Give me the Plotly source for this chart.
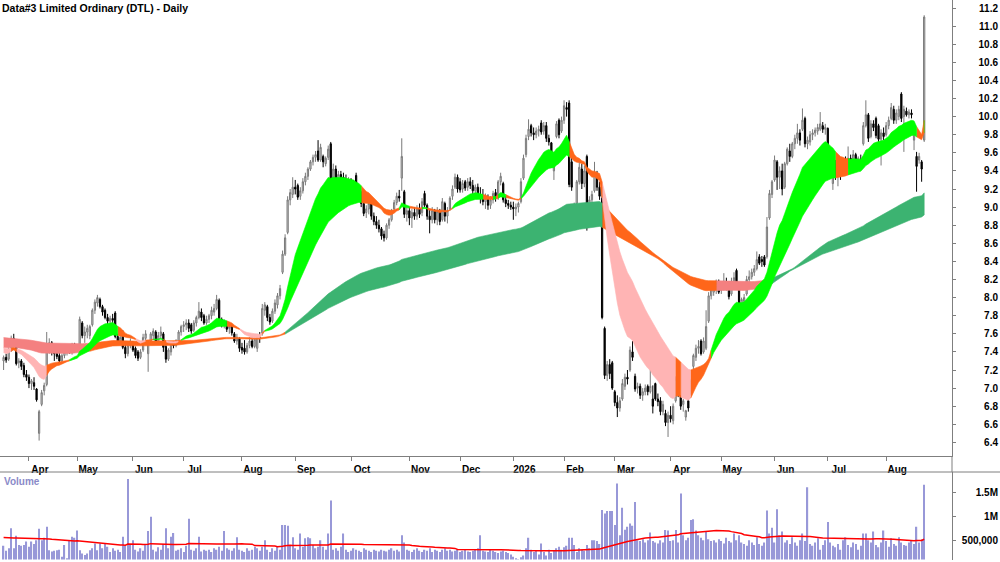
import numpy as np
import pandas as pd
import plotly.graph_objects as go

# ---------------- data ----------------
start_date = "2025-03-18"
end_date = "2026-08-24"
holidays = ["2025-04-18", "2025-04-21", "2025-04-25", "2025-06-09", "2025-12-25",
            "2025-12-26", "2026-01-01", "2026-01-26", "2026-04-03", "2026-04-06",
            "2026-06-08"]

opens = [
    # Mar 2025
    7.30, 7.34, 7.32, 7.43, 7.55, 7.51, 7.28, 7.30, 7.25, 7.15,
    # Apr 2025
    7.12, 7.05, 7.06, 6.99, 6.50, 6.82, 6.97, 7.04, 7.45, 7.50, 7.40, 7.38, 7.36, 7.30, 7.36, 7.40, 7.42, 7.40, 7.46,
    # May 2025
    7.44, 7.43, 7.72, 7.58, 7.62, 7.58, 7.70, 7.86, 7.94, 7.98, 7.90, 7.86, 7.78, 7.74, 7.77, 7.83, 7.57, 7.52, 7.62, 7.45, 7.38, 7.47,
    # Jun 2025
    7.50, 7.44, 7.40, 7.34, 7.42, 7.55, 7.38, 7.52, 7.58, 7.62, 7.52, 7.58, 7.60, 7.46, 7.32, 7.40, 7.48, 7.47, 7.52, 7.62,
    # Jul 2025
    7.68, 7.70, 7.72, 7.70, 7.64, 7.72, 7.78, 7.84, 7.80, 7.72, 7.76, 7.80, 7.84, 7.88, 7.97, 7.76, 7.70, 7.72, 7.66, 7.68, 7.60, 7.52, 7.55,
    # Aug 2025
    7.45, 7.44, 7.40, 7.47, 7.52, 7.46, 7.44, 7.56, 7.60, 7.86, 7.90, 7.78, 7.74, 7.85, 7.92, 8.02, 8.28, 8.48, 8.72, 9.08, 9.14,
    # Sep 2025
    9.22, 9.24, 9.12, 9.18, 9.28, 9.34, 9.42, 9.50, 9.55, 9.62, 9.52, 9.56, 9.48, 9.55, 9.70, 9.30, 9.42, 9.30, 9.36, 9.33, 9.30, 9.26,
    # Oct 2025
    9.30, 9.22, 9.35, 9.14, 9.16, 9.04, 8.94, 8.98, 9.04, 8.90, 8.84, 8.80, 8.76, 8.70, 8.66, 8.80, 8.86, 8.98, 9.05, 9.12, 9.32, 9.17, 8.92,
    # Nov 2025
    8.96, 8.88, 8.94, 8.90, 8.98, 8.94, 9.15, 9.02, 8.90, 8.86, 8.96, 8.86, 8.95, 8.86, 9.04, 8.90, 8.98, 9.12, 9.22, 9.33,
    # Dec 2025
    9.28, 9.20, 9.28, 9.22, 9.28, 9.24, 9.18, 9.22, 9.14, 9.12, 9.06, 9.10, 9.02, 9.08, 9.16, 9.10, 9.28, 9.26, 9.08, 9.04, 9.02,
    # Jan 2026
    9.00, 8.98, 9.00, 9.06, 9.32, 9.58, 9.78, 9.90, 9.82, 9.80, 9.84, 9.93, 9.84, 9.90, 9.76, 9.71, 9.40, 9.78, 9.96, 9.84,
    # Feb 2026
    9.96, 10.10, 10.15, 9.50, 8.85, 9.04, 9.28, 9.42, 9.26, 9.56, 8.82, 9.08, 9.18, 9.35, 9.22, 9.10, 7.66, 7.14, 7.26, 7.28,
    # Mar 2026
    6.96, 6.84, 6.78, 6.88, 7.02, 7.12, 7.20, 7.40, 7.13, 7.00, 7.02, 6.92, 6.96, 7.02, 6.96, 6.88, 7.05, 6.88, 6.86, 6.74, 6.72, 6.62,
    # Apr 2026
    6.70, 6.64, 6.86, 7.08, 6.90, 6.82, 6.68, 6.86, 6.94, 7.24, 7.34, 7.44, 7.52, 7.40, 7.44, 7.74, 8.02, 8.06, 8.12, 8.18,
    # May 2026
    8.08, 8.12, 8.18, 8.14, 8.04, 8.18, 8.30, 8.10, 7.86, 7.96, 8.04, 8.20, 8.23, 8.28, 8.32, 8.45, 8.42, 8.45, 8.45, 8.88, 9.14,
    # Jun 2026
    9.30, 9.50, 9.33, 9.40, 9.22, 9.48, 9.62, 9.56, 9.70, 9.76, 9.82, 9.86, 9.98, 9.70, 9.72, 9.80, 9.82, 9.84, 9.86, 9.90, 9.86,
    # Jul 2026
    9.87, 9.59, 9.26, 9.48, 9.34, 9.42, 9.38, 9.48, 9.44, 9.54, 9.46, 9.58, 9.50, 9.52, 9.70, 9.90, 10.02, 9.78, 9.92, 9.98, 9.90, 9.75, 9.82,
    # Aug 2026
    9.80, 9.90, 9.98, 10.08, 9.96, 10.00, 10.25, 10.00, 10.06, 10.02, 10.04, 9.74, 9.56, 9.52, 9.50, 9.74,
]
highs = [
    7.36, 7.38, 7.45, 7.58, 7.60, 7.53, 7.33, 7.32, 7.28, 7.20,
    7.15, 7.10, 7.12, 7.00, 6.76, 6.98, 7.06, 7.62, 7.55, 7.52, 7.45, 7.44, 7.40, 7.38, 7.42, 7.46, 7.48, 7.50, 7.50,
    7.48, 7.79, 7.74, 7.68, 7.70, 7.70, 7.88, 7.98, 8.03, 8.00, 7.92, 7.88, 7.82, 7.80, 7.82, 7.85, 7.60, 7.58, 7.64, 7.48, 7.50, 7.55,
    7.52, 7.46, 7.42, 7.43, 7.60, 7.64, 7.53, 7.62, 7.66, 7.64, 7.62, 7.68, 7.62, 7.48, 7.44, 7.50, 7.52, 7.54, 7.64, 7.70,
    7.74, 7.76, 7.76, 7.72, 7.75, 7.80, 7.95, 7.88, 7.82, 7.80, 7.82, 7.90, 7.93, 8.03, 7.99, 7.78, 7.76, 7.74, 7.70, 7.70, 7.62, 7.60, 7.56,
    7.50, 7.53, 7.50, 7.56, 7.57, 7.56, 7.60, 7.62, 7.93, 7.95, 7.92, 7.82, 7.88, 7.98, 8.05, 8.14, 8.52, 8.70, 9.12, 9.20, 9.33,
    9.30, 9.26, 9.22, 9.32, 9.38, 9.44, 9.52, 9.58, 9.62, 9.74, 9.70, 9.58, 9.56, 9.68, 9.72, 9.48, 9.46, 9.40, 9.40, 9.38, 9.36, 9.33,
    9.32, 9.30, 9.38, 9.22, 9.18, 9.08, 9.02, 9.08, 9.08, 8.94, 8.90, 8.86, 8.78, 8.74, 8.82, 8.88, 8.98, 9.08, 9.16, 9.19, 9.76, 9.19, 9.00,
    9.00, 8.98, 9.00, 9.02, 9.04, 9.10, 9.18, 9.04, 8.98, 9.00, 8.98, 9.00, 8.98, 9.10, 9.06, 9.00, 9.12, 9.24, 9.37, 9.36,
    9.32, 9.30, 9.30, 9.32, 9.33, 9.30, 9.25, 9.26, 9.22, 9.20, 9.15, 9.14, 9.12, 9.18, 9.20, 9.30, 9.38, 9.28, 9.12, 9.08, 9.06,
    9.06, 9.04, 9.06, 9.32, 9.58, 9.80, 9.97, 9.92, 9.88, 9.88, 9.90, 9.96, 9.94, 9.94, 9.80, 9.72, 9.52, 9.95, 9.98, 10.00,
    10.18, 10.16, 10.18, 9.56, 9.05, 9.30, 9.52, 9.48, 9.46, 9.58, 9.12, 9.18, 9.50, 9.40, 9.28, 9.22, 7.68, 7.30, 7.32, 7.30,
    6.98, 6.92, 6.90, 7.10, 7.16, 7.20, 7.46, 7.52, 7.16, 7.06, 7.05, 7.00, 7.04, 7.04, 7.31, 7.03, 7.06, 6.94, 6.90, 6.86, 6.76, 6.74,
    6.80, 6.83, 7.13, 7.10, 6.92, 6.88, 6.76, 6.88, 7.10, 7.38, 7.48, 7.53, 7.54, 7.56, 7.86, 8.06, 8.17, 8.18, 8.20, 8.20,
    8.18, 8.27, 8.22, 8.16, 8.22, 8.28, 8.32, 8.12, 8.00, 8.04, 8.24, 8.30, 8.32, 8.36, 8.51, 8.48, 8.46, 8.47, 8.89, 9.19, 9.30,
    9.57, 9.52, 9.45, 9.48, 9.50, 9.66, 9.70, 9.72, 9.80, 9.92, 9.86, 10.09, 10.00, 9.78, 9.84, 9.86, 9.88, 9.92, 10.05, 9.94, 9.92,
    9.88, 9.62, 9.52, 9.52, 9.45, 9.46, 9.52, 9.56, 9.67, 9.58, 9.63, 9.60, 9.56, 9.58, 9.94, 10.18, 10.04, 9.96, 9.96, 10.00, 9.92, 9.86, 9.88,
    9.94, 10.00, 10.15, 10.12, 10.08, 10.12, 10.27, 10.12, 10.10, 10.08, 10.08, 9.94, 9.61, 9.60, 9.52, 11.12,
]
lows = [
    7.20, 7.28, 7.30, 7.40, 7.48, 7.25, 7.22, 7.20, 7.12, 7.08,
    7.00, 6.98, 6.98, 6.85, 6.42, 6.80, 6.92, 7.02, 7.38, 7.36, 7.30, 7.32, 7.28, 7.27, 7.33, 7.36, 7.38, 7.37, 7.40,
    7.40, 7.42, 7.55, 7.50, 7.55, 7.54, 7.68, 7.82, 7.90, 7.88, 7.80, 7.76, 7.70, 7.70, 7.72, 7.55, 7.48, 7.48, 7.43, 7.33, 7.35, 7.44,
    7.40, 7.33, 7.30, 7.32, 7.40, 7.50, 7.18, 7.50, 7.54, 7.48, 7.48, 7.55, 7.40, 7.28, 7.30, 7.36, 7.44, 7.45, 7.50, 7.58,
    7.62, 7.64, 7.62, 7.60, 7.62, 7.68, 7.76, 7.74, 7.70, 7.70, 7.72, 7.76, 7.80, 7.86, 7.74, 7.67, 7.66, 7.62, 7.60, 7.58, 7.50, 7.48, 7.40,
    7.38, 7.37, 7.38, 7.44, 7.44, 7.44, 7.40, 7.50, 7.58, 7.80, 7.74, 7.70, 7.72, 7.82, 7.88, 7.98, 8.26, 8.46, 8.70, 9.02, 9.10,
    9.14, 9.08, 9.08, 9.15, 9.24, 9.30, 9.40, 9.46, 9.50, 9.50, 9.50, 9.44, 9.45, 9.52, 9.22, 9.22, 9.26, 9.28, 9.30, 9.24, 9.22, 9.20,
    9.18, 9.16, 9.10, 9.08, 9.00, 8.90, 8.88, 8.92, 8.86, 8.80, 8.76, 8.72, 8.64, 8.62, 8.64, 8.76, 8.84, 8.94, 9.02, 9.06, 9.18, 8.88, 8.84,
    8.80, 8.77, 8.86, 8.86, 8.88, 8.90, 9.00, 8.86, 8.71, 8.82, 8.82, 8.80, 8.80, 8.84, 8.84, 8.82, 8.96, 9.08, 9.20, 9.16,
    9.16, 9.16, 9.18, 9.18, 9.20, 9.14, 9.10, 9.10, 9.04, 9.02, 8.98, 8.97, 8.98, 9.04, 9.06, 9.08, 9.24, 9.05, 9.00, 8.98, 8.97,
    8.86, 8.90, 8.94, 9.04, 9.30, 9.55, 9.74, 9.78, 9.74, 9.76, 9.78, 9.80, 9.80, 9.72, 9.68, 9.50, 9.30, 9.76, 9.76, 9.82,
    9.92, 10.00, 9.22, 9.18, 8.78, 9.00, 9.25, 9.20, 9.22, 8.74, 8.80, 8.96, 9.16, 9.18, 9.08, 7.76, 7.10, 7.08, 7.10, 6.98,
    6.80, 6.68, 6.74, 6.86, 6.98, 7.04, 7.18, 7.30, 6.96, 6.94, 6.88, 6.86, 6.92, 6.92, 6.94, 6.72, 6.86, 6.80, 6.70, 6.70, 6.58, 6.46,
    6.62, 6.60, 6.84, 6.90, 6.76, 6.74, 6.64, 6.74, 6.92, 7.20, 7.30, 7.38, 7.36, 7.38, 7.42, 7.72, 7.98, 8.02, 8.04, 8.04,
    8.04, 8.08, 8.08, 7.98, 8.02, 8.12, 8.10, 7.88, 7.82, 7.90, 8.02, 8.14, 8.20, 8.24, 8.30, 8.36, 8.34, 8.34, 8.43, 8.86, 9.10,
    9.28, 9.19, 9.20, 9.13, 9.20, 9.46, 9.50, 9.54, 9.64, 9.70, 9.68, 9.84, 9.66, 9.64, 9.68, 9.74, 9.78, 9.80, 9.84, 9.82, 9.80,
    9.56, 9.44, 9.19, 9.30, 9.23, 9.30, 9.36, 9.40, 9.42, 9.42, 9.44, 9.46, 9.46, 9.48, 9.68, 9.88, 9.72, 9.76, 9.84, 9.76, 9.72, 9.46, 9.74,
    9.78, 9.86, 9.96, 9.92, 9.92, 9.96, 9.94, 9.61, 10.00, 9.98, 9.98, 9.63, 9.17, 9.48, 9.28, 9.72,
]
closes = [
    7.34, 7.31, 7.43, 7.55, 7.52, 7.27, 7.30, 7.24, 7.15, 7.12,
    7.05, 7.08, 7.02, 6.87, 6.74, 6.95, 7.03, 7.45, 7.50, 7.40, 7.38, 7.35, 7.30, 7.36, 7.40, 7.43, 7.40, 7.47, 7.44,
    7.43, 7.76, 7.58, 7.62, 7.66, 7.68, 7.86, 7.95, 8.00, 7.90, 7.84, 7.78, 7.74, 7.77, 7.75, 7.57, 7.52, 7.56, 7.45, 7.38, 7.47, 7.52,
    7.42, 7.36, 7.33, 7.40, 7.56, 7.60, 7.50, 7.60, 7.63, 7.52, 7.58, 7.62, 7.45, 7.32, 7.42, 7.48, 7.47, 7.52, 7.62, 7.68,
    7.70, 7.72, 7.66, 7.63, 7.72, 7.78, 7.85, 7.78, 7.72, 7.76, 7.80, 7.86, 7.88, 7.98, 7.76, 7.70, 7.73, 7.65, 7.68, 7.61, 7.52, 7.56, 7.44,
    7.42, 7.40, 7.47, 7.52, 7.46, 7.54, 7.58, 7.55, 7.88, 7.92, 7.78, 7.73, 7.85, 7.94, 8.02, 8.10, 8.48, 8.66, 9.08, 9.16, 9.22,
    9.20, 9.11, 9.18, 9.28, 9.34, 9.42, 9.50, 9.55, 9.58, 9.52, 9.66, 9.50, 9.54, 9.64, 9.25, 9.42, 9.30, 9.36, 9.33, 9.30, 9.26, 9.30,
    9.22, 9.26, 9.12, 9.18, 9.04, 8.93, 8.98, 9.04, 8.90, 8.84, 8.80, 8.76, 8.68, 8.66, 8.80, 8.86, 8.96, 9.05, 9.12, 9.10, 9.56, 8.92, 8.96,
    8.88, 8.94, 8.90, 8.98, 8.92, 9.06, 9.02, 8.90, 8.86, 8.96, 8.86, 8.95, 8.84, 9.06, 8.90, 8.96, 9.10, 9.20, 9.33, 9.20,
    9.19, 9.26, 9.21, 9.28, 9.24, 9.18, 9.22, 9.14, 9.10, 9.06, 9.10, 9.02, 9.08, 9.15, 9.10, 9.28, 9.34, 9.08, 9.04, 9.02, 9.00,
    8.98, 9.00, 9.04, 9.28, 9.54, 9.76, 9.86, 9.82, 9.80, 9.84, 9.86, 9.83, 9.90, 9.76, 9.72, 9.53, 9.48, 9.92, 9.80, 9.96,
    10.12, 10.08, 9.25, 9.22, 9.02, 9.28, 9.44, 9.26, 9.40, 8.78, 9.08, 9.14, 9.35, 9.22, 9.12, 7.78, 7.14, 7.26, 7.16, 7.00,
    6.84, 6.78, 6.86, 7.05, 7.12, 7.10, 7.42, 7.34, 6.99, 7.02, 6.92, 6.96, 7.00, 6.96, 7.02, 6.80, 6.88, 6.85, 6.74, 6.82, 6.62, 6.70,
    6.66, 6.80, 7.10, 6.94, 6.80, 6.86, 6.75, 6.78, 7.08, 7.36, 7.44, 7.46, 7.38, 7.52, 7.68, 8.02, 8.10, 8.14, 8.16, 8.06,
    8.15, 8.18, 8.12, 8.01, 8.18, 8.22, 8.12, 7.90, 7.98, 8.00, 8.20, 8.23, 8.28, 8.32, 8.42, 8.38, 8.40, 8.36, 8.78, 9.15, 9.28,
    9.52, 9.33, 9.40, 9.20, 9.48, 9.64, 9.56, 9.70, 9.76, 9.82, 9.74, 9.96, 9.70, 9.74, 9.80, 9.82, 9.85, 9.88, 9.92, 9.86, 9.88,
    9.58, 9.46, 9.50, 9.34, 9.40, 9.36, 9.50, 9.44, 9.54, 9.46, 9.58, 9.50, 9.54, 9.50, 9.90, 10.02, 9.76, 9.92, 9.88, 9.79, 9.75, 9.82, 9.78,
    9.90, 9.96, 10.10, 9.96, 10.04, 10.08, 9.98, 10.08, 10.02, 10.05, 10.02, 9.90, 9.45, 9.56, 9.42, 11.10,
]
volumes_k = [
    380, 280, 330, 750, 330, 590, 400, 380, 400, 470,
    360, 470, 420, 500, 740, 500, 550, 780, 290, 260,
    280, 290, 300, 150, 400, 120, 500, 570, 550, 700,
    290, 220, 190, 220, 290, 330, 430, 290, 430, 330,
    430, 360, 250, 330, 280, 300, 250, 570, 380, 1780,
    420, 500, 300, 260, 330, 280, 420, 690, 990, 300,
    260, 350, 300, 420, 750, 330, 570, 650, 280, 300,
    330, 250, 380, 950, 300, 280, 330, 570, 260, 300,
    280, 300, 250, 330, 300, 360, 280, 690, 330, 300,
    280, 330, 560, 300, 280, 250, 330, 280, 300, 360,
    330, 280, 360, 500, 300, 250, 330, 280, 360, 300,
    820, 820, 800, 400, 560, 330, 300, 640, 360, 540,
    560, 540, 400, 330, 360, 500, 360, 300, 640, 1330,
    300, 330, 280, 360, 640, 300, 250, 280, 330, 300,
    280, 250, 330, 300, 280, 250, 300, 280, 260, 300,
    280, 260, 300, 330, 280, 300, 260, 600, 450, 300,
    280, 250, 300, 330, 280, 250, 300, 280, 330, 250,
    300, 280, 250, 300, 330, 280, 300, 260, 280, 300,
    250, 280, 300, 260, 250, 280, 300, 330, 600, 280,
    260, 250, 300, 280, 250, 230, 260, 280, 250, 230,
    200, 150, 120, 100, 140, 180, 330, 550, 300, 250,
    280, 200, 430, 250, 180, 300, 230, 280, 330, 360,
    300, 350, 380, 550, 550, 400, 250, 330, 300, 280,
    400, 330, 500, 500, 480, 420, 1130, 1060, 1110, 1110,
    1110, 820, 1690, 600, 1180, 720, 780, 850, 800, 1300,
    500, 480, 520, 450, 500, 660, 480, 450, 430, 500,
    450, 710, 700, 480, 500, 710, 450, 1480, 600, 500,
    550, 920, 940, 700, 600, 550, 500, 670, 520, 480,
    500, 450, 520, 480, 430, 550, 480, 450, 640, 500,
    600, 450, 420, 380, 500, 450, 400, 560, 420, 380,
    450, 1120, 640, 760, 450, 1150, 600, 680, 450, 500,
    420, 560, 450, 380, 500, 640, 480, 1610, 420, 380,
    450, 540, 300, 400, 500, 880, 450, 380, 350, 420,
    300, 500, 560, 400, 350, 450, 420, 300, 380, 640,
    640, 500, 450, 680, 400, 350, 450, 700, 480, 360,
    540, 420, 380, 560, 450, 400, 380, 450, 500, 420,
    780, 450, 520, 1660,
]

# ribbon settings (moving-average periods and their starting levels at the left edge)
short_periods = [15, 18, 21, 25, 29, 34]
long_periods = [125, 140, 155, 170, 185, 200]
short_seed = [7.40, 7.41, 7.42, 7.43, 7.44, 7.45]
long_seed = [7.45, 7.47, 7.49, 7.51, 7.53, 7.56]
vol_ma_period = 50
vol_ma_seed_k = 560

price_ticks = [round(6.4 + 0.2 * k, 1) for k in range(25)]
volume_ticks = [500000, 1000000, 1500000]
volume_tick_text = ["500,000", "1M", "1.5M"]
title_text = "Data#3 Limited Ordinary (DTL) - Daily"

# ---------------- derived ----------------
dates = pd.bdate_range(start_date, end_date)
dates = dates[~dates.isin(pd.to_datetime(holidays))]
n = len(dates)
assert n == len(opens) == len(highs) == len(lows) == len(closes) == len(volumes_k), \
    (n, len(opens), len(highs), len(lows), len(closes), len(volumes_k))
idx = np.arange(n)
closes_a = np.array(closes)


def ema(values, period, seed):
    a = 2.0 / (period + 1)
    out, e = [], seed
    for v in values:
        e = e + a * (v - e)
        out.append(e)
    return np.array(out)


S = np.vstack([ema(closes_a, p, s) for p, s in zip(short_periods, short_seed)])
L = np.vstack([ema(closes_a, p, s) for p, s in zip(long_periods, long_seed)])
s_up, s_lo, s_mid = S.max(0), S.min(0), S.mean(0)
l_up, l_lo, l_mid = L.max(0), L.min(0), L.mean(0)
c3 = ema(closes_a, 3, closes_a[0])
l_slope10 = l_mid - np.concatenate([np.full(10, l_mid[0]), l_mid[:-10]])

short_state = np.where((c3 > s_mid) & (S[0] > S[-1]), "g",
                       np.where((c3 < s_lo) & (S[0] < S[-1]) & (c3 < l_up), "p", "o"))

# long ribbon: rising (with hysteresis) / flat-under-short / otherwise
long_state = []
prev = "O"
for i in range(n):
    if l_slope10[i] > 0.05 or (prev == "G" and l_slope10[i] > 0.0 and closes_a[i] > l_lo[i]):
        st = "G"
    elif l_slope10[i] > -0.06 and s_mid[i] < l_mid[i]:
        st = "C"
    else:
        st = "O"
    long_state.append(st)
    prev = st
long_state = np.array(long_state)

palette = {"g": "#00ff00", "o": "#ff661a", "p": "#ffb4b4",
           "G": "#3cb371", "O": "#ff661a", "C": "#f48080"}


def band_traces(upper, lower, state):
    polys = {}
    s = 0
    while s < n:
        e = s
        while e + 1 < n and state[e + 1] == state[s]:
            e += 1
        e1 = min(e + 1, n - 1)
        xs = list(idx[s:e1 + 1]) + list(idx[s:e1 + 1][::-1])
        ys = list(upper[s:e1 + 1]) + list(lower[s:e1 + 1][::-1])
        px, py = polys.setdefault(state[s], ([], []))
        px.extend(xs + [None])
        py.extend(ys + [None])
        s = e + 1
    out = []
    for k, (px, py) in polys.items():
        out.append(go.Scatter(x=px, y=py, mode="lines", fill="toself",
                              fillcolor=palette[k], line=dict(width=0.6, color=palette[k]),
                              hoverinfo="skip", showlegend=False, xaxis="x", yaxis="y"))
    return out


vol = np.array(volumes_k) * 1000.0
vol_pad = np.concatenate([np.full(vol_ma_period - 1, vol_ma_seed_k * 1000.0), vol])
vol_ma = pd.Series(vol_pad).rolling(vol_ma_period).mean().to_numpy()[vol_ma_period - 1:]

tick_idx, tick_txt = [], []
for k in range(1, n):
    if dates[k].month != dates[k - 1].month:
        tick_idx.append(k)
        tick_txt.append(str(dates[k].year) if dates[k].month == 1 else dates[k].strftime("%b"))

# ---------------- figure ----------------
W, H = 1000, 562
FONT = "Liberation Sans, Arial, sans-serif"
fig = go.Figure()
for t in band_traces(l_up, l_lo, long_state):
    fig.add_trace(t)
for t in band_traces(s_up, s_lo, short_state):
    fig.add_trace(t)

fig.add_trace(go.Candlestick(
    x=idx, open=opens, high=highs, low=lows, close=closes,
    increasing=dict(line=dict(color="#7a7a7a", width=1), fillcolor="#d4d4d4"),
    decreasing=dict(line=dict(color="#000000", width=1), fillcolor="#000000"),
    whiskerwidth=0, showlegend=False, hoverinfo="skip", xaxis="x", yaxis="y"))

fig.add_trace(go.Bar(x=idx, y=vol, marker=dict(color="#9898d8", line=dict(width=0)),
                     showlegend=False, hoverinfo="skip", xaxis="x2", yaxis="y2"))
fig.add_trace(go.Scatter(x=idx, y=vol_ma, mode="lines", line=dict(color="#ff0000", width=1.5),
                         showlegend=False, hoverinfo="skip", xaxis="x2", yaxis="y2"))
# invisible carriers so the label-only overlay axes get drawn
fig.add_trace(go.Scatter(x=idx[:1], y=closes[:1], mode="markers", marker=dict(opacity=0),
                         showlegend=False, hoverinfo="skip", xaxis="x", yaxis="y3"))
fig.add_trace(go.Scatter(x=idx[:1], y=vol[:1], mode="markers", marker=dict(opacity=0),
                         showlegend=False, hoverinfo="skip", xaxis="x2", yaxis="y4"))

x_range = [-1.42, 373.97]
price_range = [6.2497, 11.2884]
vol_range = [94000, 1928700]
price_dom = [(H - 456) / H, 1.0]
vol_dom = [2.5 / H, 90 / H]
axis_col = "#7f7f7f"
tick_font = dict(family=FONT, size=10, color="#000000", weight="bold")

fig.update_layout(
    width=W, height=H, margin=dict(l=0, r=0, t=0, b=0, pad=0),
    paper_bgcolor="white", plot_bgcolor="white", bargap=0.5,
    showlegend=False, hovermode=False, dragmode=False,
    xaxis=dict(domain=[0, 0.952], range=x_range, anchor="y", tickvals=tick_idx, ticktext=tick_txt,
               ticks="outside", ticklen=4, tickcolor=axis_col, showline=True, linecolor=axis_col,
               linewidth=1, tickfont=tick_font, ticklabelshift=11, showgrid=False, zeroline=False,
               rangeslider=dict(visible=False), fixedrange=True),
    yaxis=dict(domain=price_dom, range=price_range, anchor="x", side="right", tickvals=price_ticks,
               ticks="outside", ticklen=3, tickcolor=axis_col, showline=True, linecolor=axis_col,
               showticklabels=False, showgrid=False, zeroline=False),
    yaxis3=dict(overlaying="y", range=price_range, side="left", anchor="free", position=0.998,
                tickvals=price_ticks, ticktext=[f"{v:.1f}" for v in price_ticks], ticks="",
                showline=False, showgrid=False, zeroline=False, tickfont=tick_font),
    xaxis2=dict(domain=[0, 0.952], range=x_range, anchor="y2", showticklabels=False, ticks="",
                showline=False, showgrid=False, zeroline=False),
    yaxis2=dict(domain=vol_dom, range=vol_range, anchor="x2", side="right", tickvals=volume_ticks,
                ticks="outside", ticklen=3, tickcolor=axis_col, showline=True, linecolor=axis_col,
                showticklabels=False, showgrid=False, zeroline=False),
    yaxis4=dict(overlaying="y2", range=vol_range, side="left", anchor="free", position=0.998,
                tickvals=volume_ticks, ticktext=volume_tick_text, ticks="", showline=False,
                showgrid=False, zeroline=False, tickfont=tick_font),
    shapes=[
        dict(type="line", xref="paper", yref="paper", x0=0, x1=1, y0=90 / H, y1=90 / H,
             line=dict(color=axis_col, width=1)),
        dict(type="line", xref="paper", yref="paper", x0=0.952, x1=0.952, y0=90 / H, y1=price_dom[0],
             line=dict(color=axis_col, width=1)),
    ],
    annotations=[
        dict(text=title_text, xref="paper", yref="paper", x=0.0, y=1 - 7.5 / H, xanchor="left",
             yanchor="middle", showarrow=False, font=dict(family=FONT, size=10.5, color="#000000", weight="bold")),
        dict(text="Volume", xref="paper", yref="paper", x=0.002, y=(H - 481) / H, xanchor="left",
             yanchor="middle", showarrow=False, font=dict(family=FONT, size=10, color="#8a8ac8", weight="bold")),
    ],
)

fig.write_html("out.html", config={"displayModeBar": False},
               post_script="document.body.style.margin='0';document.body.style.padding='0';"
                           "document.body.style.overflow='hidden';")
